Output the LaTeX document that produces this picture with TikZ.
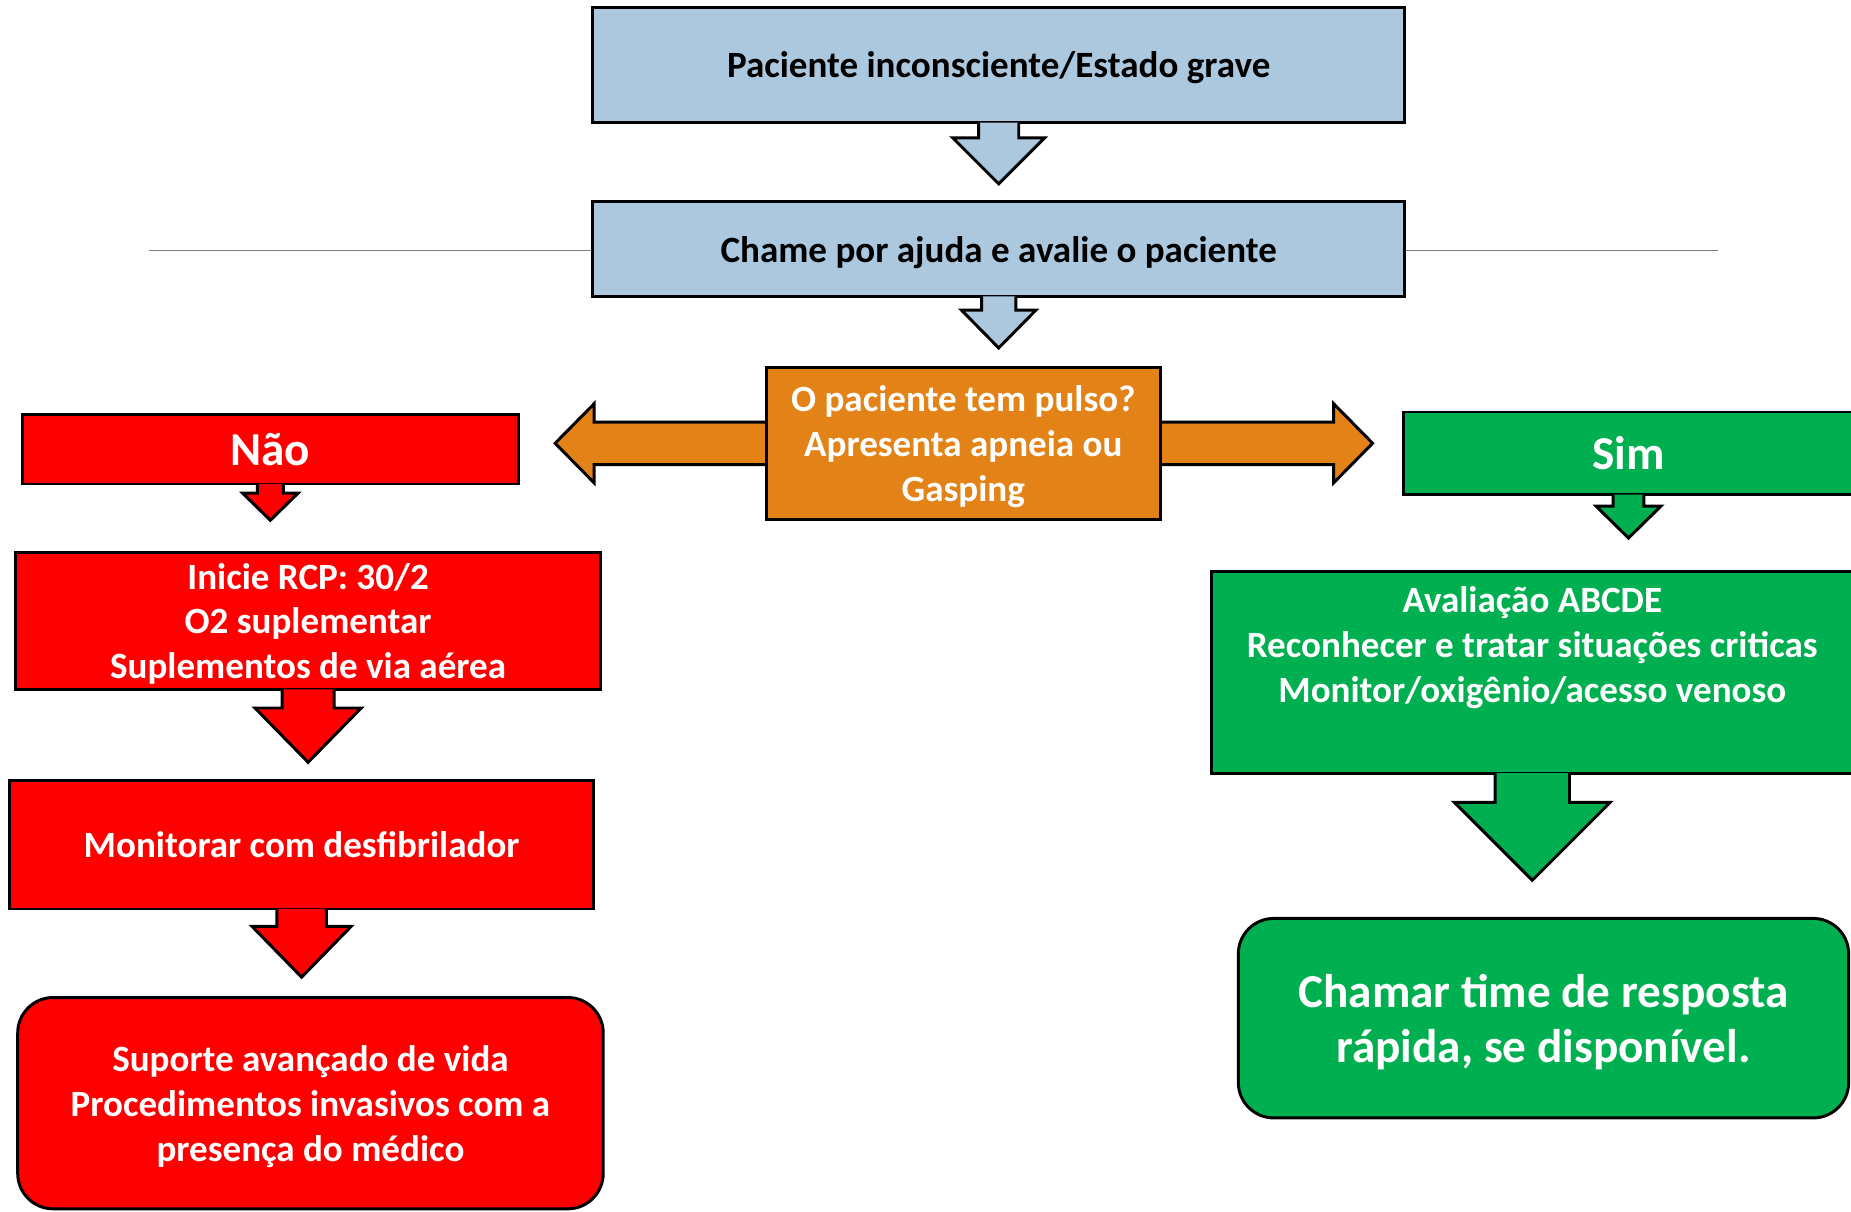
\documentclass[tikz,border=0pt]{standalone}
\usepackage{fontspec}
\setmainfont{Carlito}
\usetikzlibrary{calc,backgrounds}

\definecolor{boxblue}{RGB}{172,200,222}
\definecolor{boxorange}{RGB}{227,130,22}
\definecolor{boxred}{RGB}{255,0,0}
\definecolor{boxgreen}{RGB}{0,176,80}

% block arrow downwards: source, target, gap, shaft, head, head length, colour
\newcommand{\blockdown}[7]{%
	\coordinate (tip) at ($(#1.south |- #2.north)+(0,-#3)$);
	\filldraw[blockarrow, fill=#7] ($(#1.south)+(-#4,-1.3)$) -- ($(tip)+(-#4,-#6)$) -- ($(tip)+(-#5,-#6)$) -- (tip)
		-- ($(tip)+(#5,-#6)$) -- ($(tip)+(#4,-#6)$) -- ($(#1.south)+(#4,-1.3)$);
}

\begin{document}
\begin{tikzpicture}[x = 1pt, y = -1pt,
		box/.style = {draw, line width=2.5pt, inner sep=0pt, align=center, text=white, text depth=0pt,
			font=\bfseries\fontsize{31.4}{38}\selectfont},
		bigtext/.style = {font=\bfseries\fontsize{40}{47}\selectfont},
		blockarrow/.style = {draw=black, line width=2.5pt, line join=miter}]
	\useasboundingbox (0, 0) rectangle (1568, 1026);

	% Nodes
	\node[box, fill=boxblue, text=black, minimum width=688, minimum height=98] (start) at (846, 55) {Paciente inconsciente/Estado grave};
	\node[box, fill=boxblue, text=black, minimum width=688, minimum height=80] (help) at (846, 211) {Chame por ajuda e avalie o paciente};
	\node[box, fill=boxorange, minimum width=334, minimum height=129] (ask) at (816, 375.5) {O paciente tem pulso?\\Apresenta apneia ou\\Gasping};

	\node[box, bigtext, fill=boxred, minimum width=420, minimum height=59] (nao) at (229, 380.5) {Não};
	\node[box, fill=boxred, minimum width=496, minimum height=116] (rcp) at (261, 526) {Inicie RCP: 30/2\\O2 suplementar\\Suplementos de via aérea};
	\node[box, fill=boxred, minimum width=495, minimum height=109] (monitor) at (255.5, 715.5) {Monitorar com desfibrilador};
	\node[box, fill=boxred, rounded corners=30, minimum width=496, minimum height=179] (sav) at (263, 934.5) {Suporte avançado de vida\\Procedimentos invasivos com a\\presença do médico};

	\node[box, bigtext, fill=boxgreen, minimum width=381, minimum height=70] (sim) at (1379.5, 384) {Sim};
	\node[box, fill=boxgreen, minimum width=544, minimum height=171] (abcde) at (1298, 569.5) {Avaliação ABCDE\\Reconhecer e tratar situações criticas\\Monitor/oxigênio/acesso venoso\\[9pt]\mbox{}};
	\node[box, bigtext, fill=boxgreen, rounded corners=30, minimum width=517, minimum height=169] (rrt) at (1307.5, 862.5) {Chamar time de resposta\\rápida, se disponível.};

	% Edges
	\begin{scope}[on background layer]
		\coordinate (lineL) at (126, 212);
		\coordinate (lineR) at (1455, 212);
		\draw[gray, line width=1.2pt] (lineL) -- (lineR);

		\coordinate (ltip) at ($(ask.west -| nao.east)+(30, 0)$);
		\coordinate (rtip) at ($(ask.east -| sim.west)+(-25, 0)$);
		\filldraw[blockarrow, fill=boxorange] ($(ask.west)+(1, -18)$) -- ($(ltip)+(33, -18)$) -- ($(ltip)+(33, -33.5)$) -- (ltip)
			-- ($(ltip)+(33, 33.5)$) -- ($(ltip)+(33, 18)$) -- ($(ask.west)+(1, 18)$);
		\filldraw[blockarrow, fill=boxorange] ($(ask.east)+(-1, -18)$) -- ($(rtip)+(-33, -18)$) -- ($(rtip)+(-33, -33.5)$) -- (rtip)
			-- ($(rtip)+(-33, 33.5)$) -- ($(rtip)+(-33, 18)$) -- ($(ask.east)+(-1, 18)$);
	\end{scope}

	\blockdown{start}{help}{14}{17}{39}{39}{boxblue}
	\blockdown{help}{ask}{15}{14.5}{31.5}{32}{boxblue}
	\blockdown{nao}{rcp}{26}{11}{23.5}{23}{boxred}
	\blockdown{rcp}{monitor}{14}{22}{45}{46}{boxred}
	\blockdown{monitor}{sav}{16}{21}{42}{43}{boxred}
	\blockdown{sim}{abcde}{27}{13}{27.5}{27}{boxgreen}
	\blockdown{abcde}{rrt}{31}{31.5}{66}{66}{boxgreen}
\end{tikzpicture}
\end{document}
